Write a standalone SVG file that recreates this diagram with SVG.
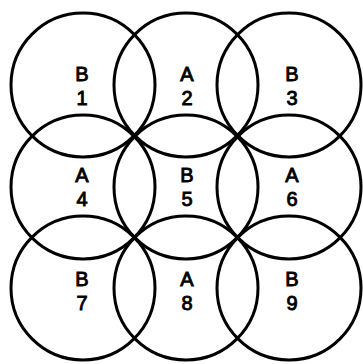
<svg xmlns="http://www.w3.org/2000/svg" width="363" height="364" viewBox="0 0 363 364">
<style>
.c{fill:none;stroke:#000;stroke-width:3}
.t{font-family:"Liberation Sans",Arial,sans-serif;font-size:20px;fill:#000;stroke:#000;stroke-width:0.9;text-anchor:middle}
</style>
<rect width="363" height="364" fill="#fff"/>
<g id="connectors"></g>
<g id="n1"><circle class="c" cx="83" cy="85" r="72"/><text class="t" x="82" y="81">B</text><text class="t" x="82" y="105">1</text></g>
<g id="n2"><circle class="c" cx="186" cy="85" r="72"/><text class="t" x="187" y="81">A</text><text class="t" x="187" y="105">2</text></g>
<g id="n3"><circle class="c" cx="289" cy="85" r="72"/><text class="t" x="292" y="81">B</text><text class="t" x="292" y="105">3</text></g>
<g id="n4"><circle class="c" cx="83" cy="187" r="72"/><text class="t" x="82" y="182">A</text><text class="t" x="82" y="206">4</text></g>
<g id="n5"><circle class="c" cx="186" cy="187" r="72"/><text class="t" x="187" y="182">B</text><text class="t" x="187" y="206">5</text></g>
<g id="n6"><circle class="c" cx="289" cy="187" r="72"/><text class="t" x="292" y="182">A</text><text class="t" x="292" y="206">6</text></g>
<g id="n7"><circle class="c" cx="83" cy="288" r="72"/><text class="t" x="82" y="286">B</text><text class="t" x="82" y="310">7</text></g>
<g id="n8"><circle class="c" cx="186" cy="288" r="72"/><text class="t" x="187" y="286">A</text><text class="t" x="187" y="310">8</text></g>
<g id="n9"><circle class="c" cx="289" cy="288" r="72"/><text class="t" x="292" y="286">B</text><text class="t" x="292" y="310">9</text></g>
</svg>
